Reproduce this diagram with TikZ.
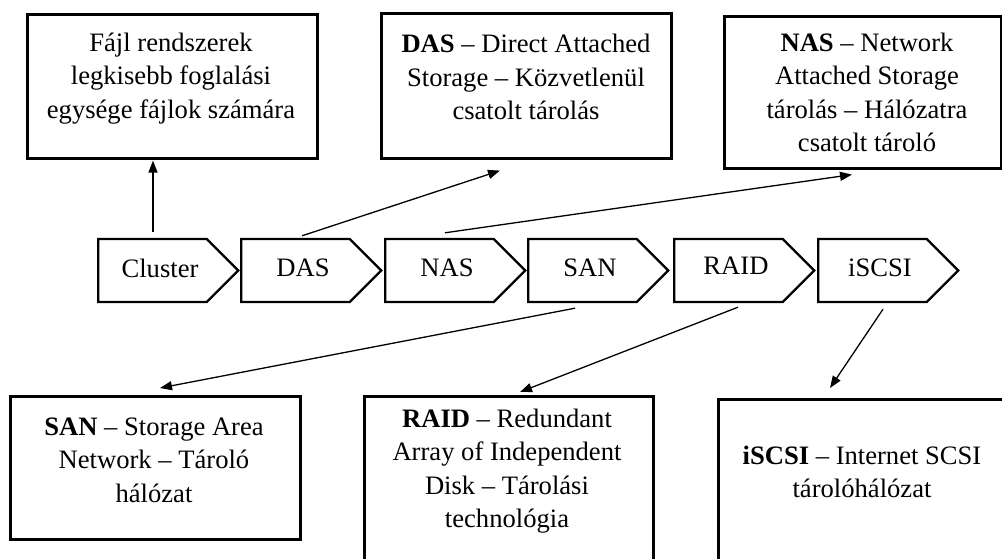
\documentclass[tikz,border=0pt]{standalone}
\usepackage{fontspec}
\setmainfont{Liberation Serif}
\usetikzlibrary{arrows.meta,shapes.symbols}

\tikzset{
  chev/.style={signal, signal to=east, signal from=nowhere, signal pointer angle=90,
    draw, line width=2.4pt, minimum width=140pt, minimum height=63pt, inner sep=0pt, anchor=west},
  infobox/.style={draw, line width=2.6pt, rectangle, inner sep=0pt, anchor=north west},
  txt/.style={align=center, inner sep=0pt, font=\fontsize{26.6pt}{33.5pt}\selectfont},
  arr/.style={line width=1.3pt, -{Triangle[length=12pt,width=9pt]}}
}

\begin{document}
\begin{tikzpicture}[x=1pt,y=-1pt]
\useasboundingbox (0,0) rectangle (1002,559);
\clip (0,0) rectangle (1002,559);

% process chevrons
\node[chev] (c1) at (97,270.5) {};
\node[chev] (c2) at (240,270.5) {};
\node[chev] (c3) at (384,270.5) {};
\node[chev] (c4) at (527,270.5) {};
\node[chev] (c5) at (673,270.5) {};
\node[chev] (c6) at (817,270.5) {};
\node[txt] (t1) at (160,268) {Cluster};
\node[txt] (t2) at (303,268) {DAS};
\node[txt] (t3) at (447,268) {NAS};
\node[txt] (t4) at (590,268) {SAN};
\node[txt] (t5) at (736,266) {RAID};
\node[txt] (t6) at (880,268) {iSCSI};

% description boxes
\node[infobox, minimum width=290pt, minimum height=144pt] (cbox) at (26,13) {};
\node[txt] (ctext) at (171,78.5) {Fájl rendszerek\\legkisebb foglalási\\egysége fájlok számára};

\node[infobox, minimum width=290pt, minimum height=145pt] (dbox) at (380,12) {};
\node[txt] (dtext) at (526,77) {\textbf{DAS} – Direct Attached\\Storage – Közvetlenül\\csatolt tárolás};

\node[infobox, minimum width=277pt, minimum height=152pt] (nbox) at (723,15) {};
\node[txt] (ntext) at (867,92.5) {\textbf{NAS} – Network\\Attached Storage\\tárolás – Hálózatra\\csatolt tároló};

\node[infobox, minimum width=290pt, minimum height=143pt] (sbox) at (9,395) {};
\node[txt] (stext) at (154,460) {\textbf{SAN} – Storage Area\\Network – Tároló\\hálózat};

\node[infobox, minimum width=289pt, minimum height=175pt] (rbox) at (363,395) {};
\node[txt] (rtext) at (507,471) {\textbf{RAID} – Redundant\\Array of Independent\\Disk – Tárolási\\technológia};

\node[infobox, minimum width=300pt, minimum height=175pt] (ibox) at (717,398) {};
\node[txt] (itext) at (862,472) {\textbf{iSCSI} – Internet SCSI\\tárolóhálózat};

% connectors
\draw[arr] ([shift={(56,-6)}]c1.north west) -- ([shift={(127,1)}]cbox.south west);
\draw[arr] ([shift={(62,-2)}]c2.north west) -- ([shift={(120,11)}]dbox.south west);
\draw[arr] ([shift={(61,-5)}]c3.north west) -- ([shift={(129,5)}]nbox.south west);
\draw[arr] ([shift={(48,5)}]c4.south west) -- ([shift={(151,-7)}]sbox.north west);
\draw[arr] ([shift={(65,4)}]c5.south west) -- ([shift={(157,-3)}]rbox.north west);
\draw[arr] ([shift={(66,6)}]c6.south west) -- ([shift={(113,-10)}]ibox.north west);
\end{tikzpicture}
\end{document}
